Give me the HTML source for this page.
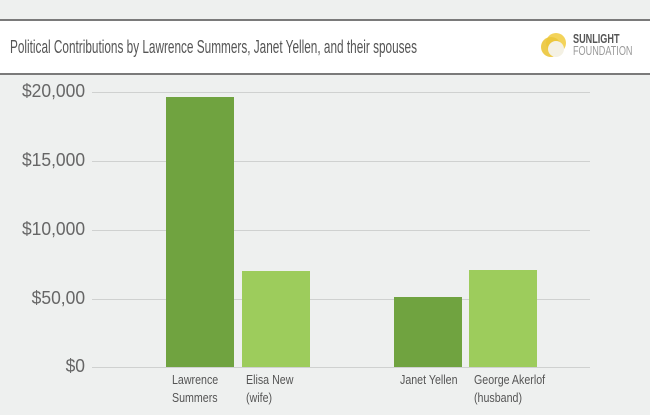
<!DOCTYPE html>
<html><head><style>
body{margin:0;width:650px;height:415px;background:#eef0ef;position:relative;overflow:hidden;font-family:"Liberation Sans",sans-serif;color:#555}
.hdr{position:absolute;left:0;top:19px;width:650px;height:52px;background:#fff;border-top:2px solid #7a7a7a;border-bottom:2px solid #7a7a7a}
.t{position:absolute;left:10px;top:16px;font-size:18px;white-space:nowrap;transform:scaleX(0.655);transform-origin:left;color:#555}
.grid{position:absolute;left:92px;width:498px;height:1px;background:#cfd1d0}
.yl{position:absolute;right:565px;font-size:18px;color:#666;transform:scaleX(0.97);transform-origin:right}
.bar{position:absolute;bottom:48px}
.xl{position:absolute;top:371px;font-size:13px;line-height:18px;color:#555;transform:scaleX(0.82);transform-origin:left;white-space:nowrap}
</style></head><body>
<div class="hdr">
<div class="t">Political Contributions by Lawrence Summers, Janet Yellen, and their spouses</div>
<svg style="position:absolute;left:540px;top:11px" width="30" height="30"><circle cx="16" cy="11" r="10" fill="#f3d35a"/><circle cx="11" cy="15" r="10" fill="#ebc53a" opacity=".9"/><circle cx="16" cy="17" r="8" fill="#f4f1e4"/></svg>
<div style="position:absolute;left:573px;top:12px;font-size:13px;font-weight:bold;color:#555;transform:scaleX(0.7);transform-origin:left;line-height:12px">SUNLIGHT</div>
<div style="position:absolute;left:573px;top:24px;font-size:13px;color:#999;transform:scaleX(0.7);transform-origin:left;line-height:12px">FOUNDATION</div>
</div>
<div class="grid" style="top:92px"></div><div class="grid" style="top:161px"></div><div class="grid" style="top:230px"></div><div class="grid" style="top:299px"></div><div class="grid" style="top:367px"></div>
<div class="yl" style="top:81px">$20,000</div>
<div class="yl" style="top:150px">$15,000</div>
<div class="yl" style="top:219px">$10,000</div>
<div class="yl" style="top:288px">$50,00</div>
<div class="yl" style="top:356px">$0</div>
<div class="bar" style="left:166px;width:68px;top:97px;height:270px;background:#70a340"></div>
<div class="bar" style="left:242px;width:68px;top:271px;height:96px;background:#9dcc5c"></div>
<div class="bar" style="left:394px;width:68px;top:297px;height:70px;background:#70a340"></div>
<div class="bar" style="left:469px;width:68px;top:270px;height:97px;background:#9dcc5c"></div>
<div class="xl" style="left:172px">Lawrence<br>Summers</div>
<div class="xl" style="left:246px">Elisa New<br>(wife)</div>
<div class="xl" style="left:400px">Janet Yellen</div>
<div class="xl" style="left:474px">George Akerlof<br>(husband)</div>
</body></html>
